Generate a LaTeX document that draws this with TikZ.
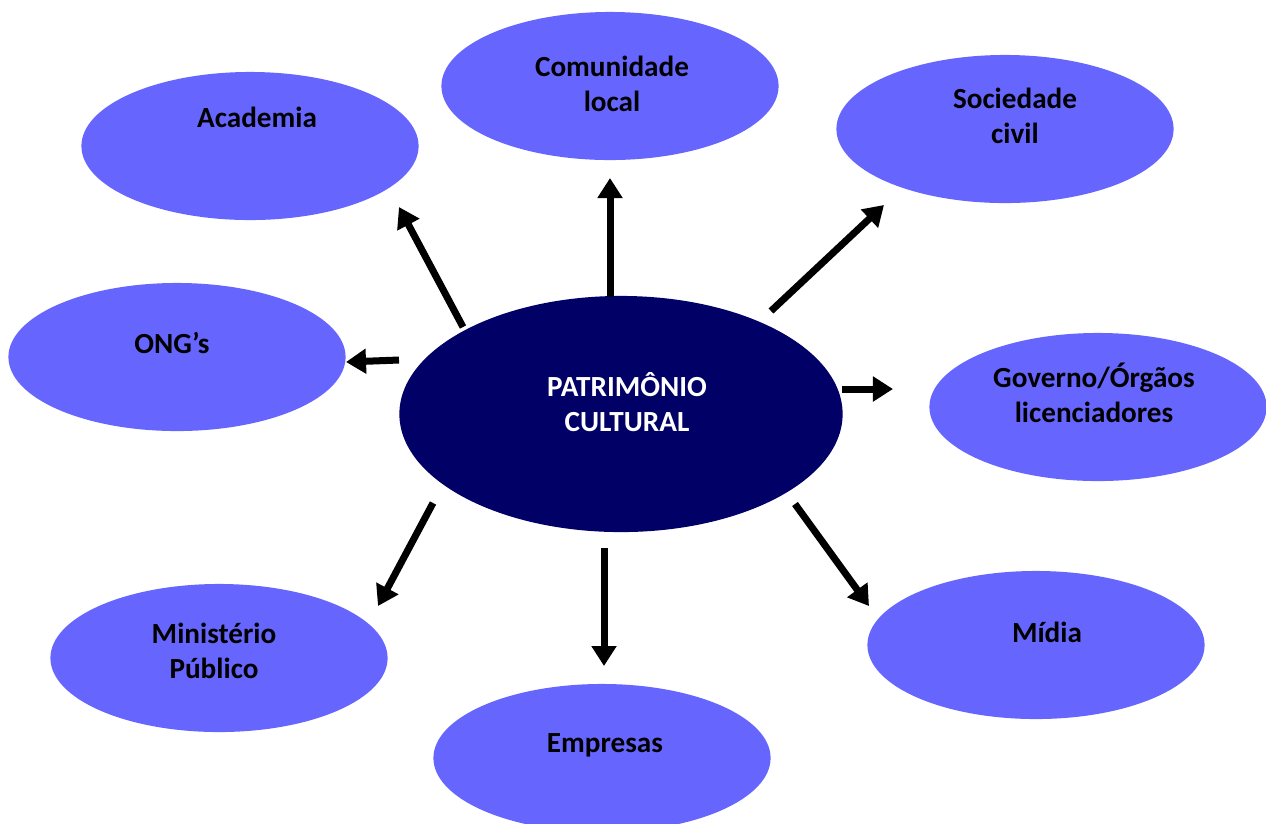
\documentclass[tikz,border=0pt]{standalone}
\usepackage{fontspec}
\setmainfont{Carlito}
\usetikzlibrary{shapes.geometric,arrows.meta}
\definecolor{actor}{RGB}{102,102,255}
\definecolor{core}{RGB}{0,0,102}
\begin{document}
\begin{tikzpicture}[x=0.01cm,y=-0.01cm,
  actorbox/.style={ellipse,fill=actor,minimum width=3.37cm,minimum height=1.48cm,inner sep=0pt},
  corebox/.style={ellipse,fill=core,minimum width=4.43cm,minimum height=2.36cm,inner sep=0pt},
  lbl/.style={font=\fontsize{8.3}{10}\selectfont\bfseries,align=center,inner sep=0pt},
  link/.style={line width=0.07cm,-{Triangle[length=0.2cm,width=0.24cm]}}]
\useasboundingbox (0,0) rectangle (1266,823);
% stakeholder ellipses
\node[actorbox] (acad) at (250,146) {};
\node[actorbox] (comu) at (610,86) {};
\node[actorbox] (soc) at (1005,129) {};
\node[actorbox] (ong) at (177,357) {};
\node[actorbox] (gov) at (1098,407) {};
\node[actorbox] (mp) at (219,658) {};
\node[actorbox] (emp) at (602,758) {};
\node[actorbox] (midia) at (1036,645) {};
% central ellipse
\node[corebox] (pc) at (621,414) {};
% labels
\node[lbl] (acadt) at (257,117) {Academia};
\node[lbl] (comut) at (612,84) {Comunidade\\local};
\node[lbl] (soct) at (1015,116) {Sociedade\\civil};
\node[lbl] (ongt) at (172,343) {ONG’s};
\node[lbl] (govt) at (1094,393) {Governo/Órgãos\\licenciadores};
\node[lbl] (mpt) at (214,651) {Ministério\\Público};
\node[lbl] (empt) at (605,745) {Empresas};
\node[lbl] (midiat) at (1047,632) {Mídia};
\node[lbl,text=white] (pct) at (627,402) {PATRIMÔNIO\\CULTURAL};
% arrow ends
\coordinate (a1) at (463,327); \coordinate (b1) at (399,207);
\coordinate (a2) at (610,297); \coordinate (b2) at (610,178);
\coordinate (a3) at (771,311); \coordinate (b3) at (884,205);
\coordinate (a4) at (399,360); \coordinate (b4) at (346,362);
\coordinate (a5) at (842,389); \coordinate (b5) at (893,389);
\coordinate (a6) at (433,503); \coordinate (b6) at (378,606);
\coordinate (a7) at (604,548); \coordinate (b7) at (604,666);
\coordinate (a8) at (795,504); \coordinate (b8) at (869,606);
\foreach \i in {1,...,8} \draw[link] (a\i) -- (b\i);
\end{tikzpicture}
\end{document}
